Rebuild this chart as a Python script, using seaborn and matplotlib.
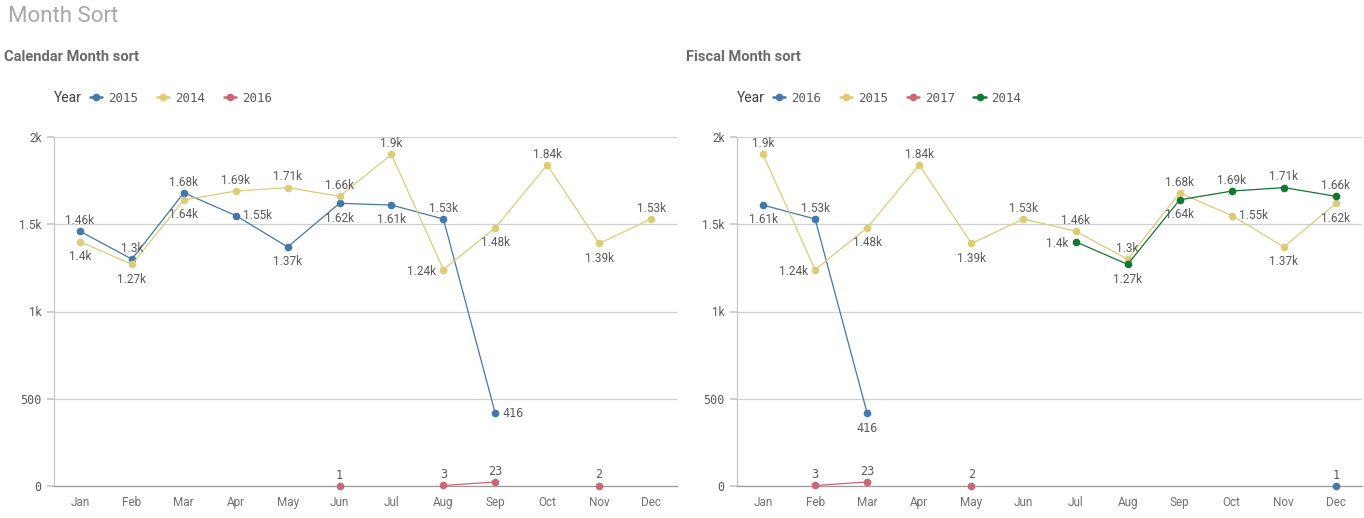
import numpy as np
import pandas as pd
import matplotlib
matplotlib.use("Agg")
import matplotlib.pyplot as plt
from matplotlib.lines import Line2D
import seaborn as sns

nan = np.nan
months = ['Jan', 'Feb', 'Mar', 'Apr', 'May', 'Jun', 'Jul', 'Aug', 'Sep', 'Oct', 'Nov', 'Dec']

# Calendar month sort
cal_2015 = [1460, 1300, 1680, 1550, 1370, 1620, 1610, 1530, 416, nan, nan, nan]
cal_2014 = [1400, 1270, 1640, 1690, 1710, 1660, 1900, 1240, 1480, 1840, 1390, 1530]
cal_2016 = [nan, nan, nan, nan, nan, 1, nan, 3, 23, nan, 2, nan]

# Fiscal month sort
fis_2016 = [1610, 1530, 416, nan, nan, nan, nan, nan, nan, nan, nan, 1]
fis_2015 = [1900, 1240, 1480, 1840, 1390, 1530, 1460, 1300, 1680, 1550, 1370, 1620]
fis_2017 = [nan, 3, 23, nan, 2, nan, nan, nan, nan, nan, nan, nan]
fis_2014 = [nan, nan, nan, nan, nan, nan, 1400, 1270, 1640, 1690, 1710, 1660]

# where each value label goes: a=above, b=below, r=right, l=left
cal_pos = {
    '2015': 'aaarbbbar___',
    '2014': 'bbbaaaalbaba',
    '2016': '_____a_aa_a_',
}
fis_pos = {
    '2016': 'bab________a',
    '2015': 'albabaaaarbb',
    '2017': '_aa_a_______',
    '2014': '______lbbaaa',
}

colors = {'2015': '#4477aa', '2014': '#ddcc77', '2016': '#cc6677'}
colors_fis = {'2016': '#4477aa', '2015': '#ddcc77', '2017': '#cc6677', '2014': '#117733'}

sns.set_theme(style='white')
plt.rcParams['font.family'] = ['Roboto', 'DejaVu Sans']

TXT = '#595959'


def long_frame(series):
    rows = []
    for year, vals in series.items():
        seg = 0
        prev = False
        for i, v in enumerate(vals):
            if np.isnan(v):
                prev = False
                continue
            if not prev:
                seg += 1
            prev = True
            rows.append({'pos': i, 'value': v, 'Year': year, 'seg': f'{year}-{seg}'})
    return pd.DataFrame(rows)


def fmt(v):
    if v >= 1000:
        return f'{v / 1000:.3g}k'
    return str(int(v))


def draw(ax, series, palette, placement):
    df = long_frame(series)
    sns.lineplot(data=df, x='pos', y='value', hue='Year', units='seg', estimator=None,
                 palette=palette, marker='o', markersize=5.5, markeredgewidth=0,
                 linewidth=0.9, legend=False, sort=False, ax=ax, clip_on=False, zorder=3)
    for year, vals in series.items():
        for i, v in enumerate(vals):
            if np.isnan(v):
                continue
            p = placement[year][i]
            fam = 'DejaVu Sans Mono' if v < 1000 else 'Roboto'
            if p == 'a':
                off, ha, va = (0, 3), 'center', 'bottom'
            elif p == 'b':
                off, ha, va = (0, -6), 'center', 'top'
            elif p == 'r':
                off, ha, va = (5, 0), 'left', 'center'
            else:
                off, ha, va = (-5, -1), 'right', 'center'
            ax.annotate(fmt(v), (i, v), xytext=off, textcoords='offset points',
                        ha=ha, va=va, fontsize=8.5, color=TXT, family=fam)

    ax.set_xlim(-0.5, 11.5)
    ax.set_ylim(0, 2000)
    ax.set_xticks(range(12))
    ax.set_xticklabels(months, fontsize=8.5, color='#707070')
    ax.set_yticks([0, 500, 1000, 1500, 2000])
    ax.set_yticklabels(['0', '500', '1k', '1.5k', '2k'], fontsize=8.5, color=TXT)
    for lab in ax.get_yticklabels():
        if 'k' not in lab.get_text():
            lab.set_family('DejaVu Sans Mono')
    ax.set_xlabel('')
    ax.set_ylabel('')
    ax.grid(axis='y', color='#d0d0d0', linewidth=0.9)
    ax.set_axisbelow(True)
    for s in ['top', 'right']:
        ax.spines[s].set_visible(False)
    ax.spines['left'].set_color('#c8c8c8')
    ax.spines['bottom'].set_color('#9a9a9a')
    ax.spines['left'].set_linewidth(0.9)
    ax.spines['bottom'].set_linewidth(0.9)
    ax.tick_params(axis='y', left=True, length=5, color='#c8c8c8', pad=4)
    ax.tick_params(axis='x', bottom=False, pad=1)


def legend(fig, x, y, palette):
    fig.text(x, y, 'Year', fontsize=10, color='#404040', va='center', ha='left')
    handles = [Line2D([], [], color=c, marker='o', markersize=5.5, markeredgewidth=0, linewidth=1.8)
               for c in palette.values()]
    fig.legend(handles, list(palette.keys()), ncol=len(palette), loc='center left',
               bbox_to_anchor=(x + 0.018, y), frameon=False, handlelength=1.0,
               handletextpad=0.45, columnspacing=1.5,
               prop={'family': 'DejaVu Sans Mono', 'size': 9}, labelcolor=TXT)


fig = plt.figure(figsize=(13.64, 5.18), dpi=100)
W, H = 1364, 518

fig.text(8 / W, 1 - 16 / H, 'Month Sort', fontsize=16, color='#a8a8a8', va='center', ha='left')
fig.text(4 / W, 1 - 57 / H, 'Calendar Month sort', fontsize=10.5, color='#6a6a6a',
         fontweight='bold', va='center', ha='left')
fig.text(686 / W, 1 - 57 / H, 'Fiscal Month sort', fontsize=10.5, color='#6a6a6a',
         fontweight='bold', va='center', ha='left')

ax1 = fig.add_axes([54 / W, 32 / H, 623 / W, 349 / H])
draw(ax1, {'2015': cal_2015, '2014': cal_2014, '2016': cal_2016}, colors, cal_pos)
legend(fig, 54 / W, 1 - 98 / H, colors)

ax2 = fig.add_axes([737 / W, 32 / H, 625 / W, 349 / H])
draw(ax2, {'2016': fis_2016, '2015': fis_2015, '2017': fis_2017, '2014': fis_2014},
     colors_fis, fis_pos)
legend(fig, 737 / W, 1 - 98 / H, colors_fis)

fig.savefig('out.png', dpi=100)
